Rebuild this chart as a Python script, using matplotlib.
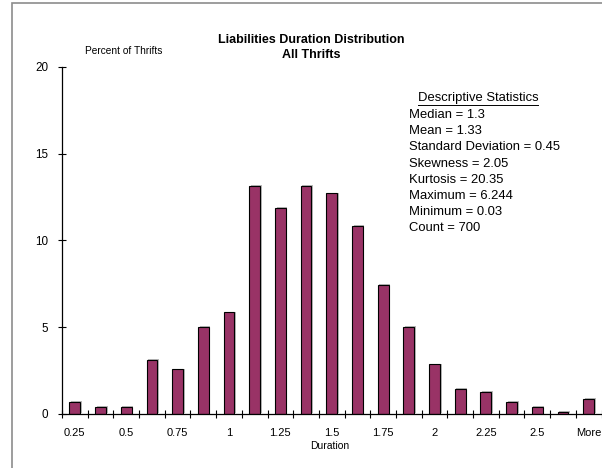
import matplotlib
matplotlib.use("Agg")
import matplotlib.pyplot as plt
import matplotlib.transforms as mtransforms
from matplotlib.lines import Line2D
from matplotlib.patches import Rectangle

plt.rcParams['font.family'] = ['Liberation Sans', 'DejaVu Sans']

# Histogram bins (upper edges) and percent of thrifts in each bin
bins = ["0.25", "0.375", "0.5", "0.625", "0.75", "0.875", "1", "1.125",
        "1.25", "1.375", "1.5", "1.625", "1.75", "1.875", "2", "2.125",
        "2.25", "2.375", "2.5", "2.625", "More"]
percent = [0.71, 0.43, 0.43, 3.14, 2.57, 5.00, 5.86, 13.14, 11.86, 13.14,
           12.71, 10.86, 7.43, 5.00, 2.86, 1.43, 1.29, 0.71, 0.43, 0.14, 0.86]

y_ticks = [0, 5, 10, 15, 20]

stats_title = "Descriptive Statistics"
stats_lines = ["Median = 1.3", "Mean = 1.33", "Standard Deviation = 0.45",
               "Skewness = 2.05", "Kurtosis = 20.35", "Maximum = 6.244",
               "Minimum = 0.03", "Count = 700"]

W, H = 602, 468
fig = plt.figure(figsize=(W / 100, H / 100), dpi=100)


def fx(px):
    return px / W


def fy(py):
    return 1 - py / H


# outer chart frame
fig.patches.append(Rectangle((fx(12), fy(480)), fx(620) - fx(12), fy(3) - fy(480),
                             transform=fig.transFigure, fill=False,
                             edgecolor='#8c8c8c', linewidth=1.2))

ax = fig.add_axes([fx(62), fy(414), fx(601.5) - fx(62), fy(67) - fy(414)])

x = list(range(len(bins)))
bar_color = '#993366'

# soft drop shadow behind the bars
shadow = mtransforms.offset_copy(ax.transData, fig=fig, x=1.6, y=0.8, units='dots')
ax.bar(x, percent, width=0.42, color='#b8b8b8', edgecolor='none',
       transform=shadow, zorder=1)
ax.bar(x, percent, width=0.42, color=bar_color, edgecolor='black',
       linewidth=0.8, zorder=2)

ax.set_xlim(-0.5, len(bins) - 0.5)
ax.set_ylim(0, 20)

for side in ('top', 'right'):
    ax.spines[side].set_visible(False)
for side in ('left', 'bottom'):
    ax.spines[side].set_linewidth(0.9)

ax.set_yticks(y_ticks)
ax.set_yticklabels([str(v) for v in y_ticks], fontsize=8.4)
ax.tick_params(axis='y', direction='inout', length=6, width=0.8, pad=7)

# tick marks at bin boundaries, labels on every other bin
ax.set_xticks([i - 0.5 for i in range(len(bins) + 1)])
ax.set_xticklabels([])
ax.tick_params(axis='x', which='major', direction='inout', length=6, width=0.8)
ax.set_xticks(x[::2], minor=True)
ax.set_xticklabels(bins[::2], minor=True, fontsize=8)
ax.tick_params(axis='x', which='minor', length=0, pad=10)

fig.text(fx(329.5), fy(446), "Duration", fontsize=7.5, ha='center', va='center')
fig.text(fx(85), fy(51), "Percent of Thrifts", fontsize=7.3, ha='left', va='center')
fig.text(fx(311.5), fy(40), "Liabilities Duration Distribution", fontsize=9,
         fontweight='bold', ha='center', va='center')
fig.text(fx(311.5), fy(54.5), "All Thrifts", fontsize=9,
         fontweight='bold', ha='center', va='center')

head = fig.text(fx(478), fy(98), stats_title, fontsize=9.4, ha='center', va='center')
fig.canvas.draw()
bb = head.get_window_extent()
fig.add_artist(Line2D([bb.x0 / W, bb.x1 / W], [fy(104.5), fy(104.5)],
                      transform=fig.transFigure, color='black', linewidth=0.7))

y0, dy = 115, 16.2
for i, line in enumerate(stats_lines):
    fig.text(fx(409), fy(y0 + i * dy), line, fontsize=9.4, ha='left', va='center')

fig.savefig("out.png", dpi=100)
